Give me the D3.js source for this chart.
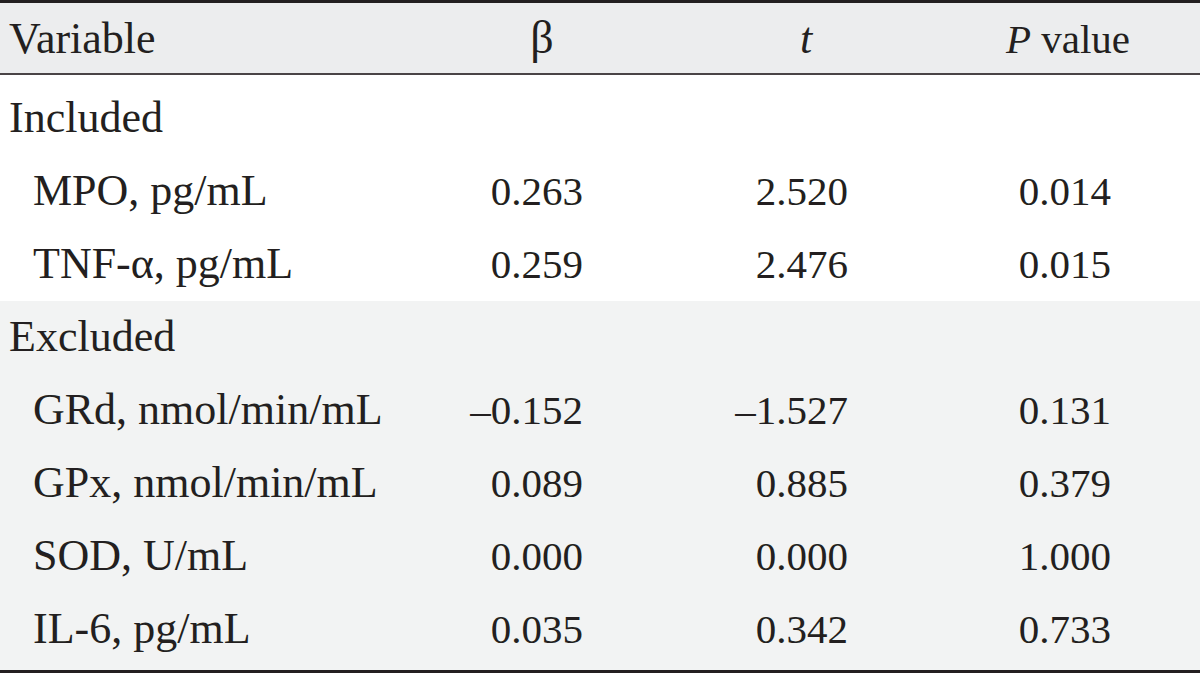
<!DOCTYPE html>
<html>
<head>
<meta charset="utf-8">
<script src="https://cdn.jsdelivr.net/npm/d3@7"></script>
<style>
  html, body { margin: 0; padding: 0; background: #fff; }
  svg { display: block; }
  text { font-family: "Liberation Serif", "DejaVu Serif", serif; fill: #231f20; }
</style>
</head>
<body>
<svg id="table" width="1200" height="673"></svg>
<script>
// table content
const sections = ["Included", "Excluded"];
const variables = ["MPO, pg/mL", "TNF-α, pg/mL", "GRd, nmol/min/mL", "GPx, nmol/min/mL", "SOD, U/mL", "IL-6, pg/mL"];
const groups = ["Included", "Included", "Excluded", "Excluded", "Excluded", "Excluded"];
const betas = [0.263, 0.259, -0.152, 0.089, 0.000, 0.035];
const tValues = [2.520, 2.476, -1.527, 0.885, 0.000, 0.342];
const pValues = [0.014, 0.015, 0.131, 0.379, 1.000, 0.733];

const width = 1200;
const height = 673;
const labelSize = 44;
const numberSize = 41;

const svg = d3.select("#table");

// en dash for negatives, as in the print
const fmt = d3.formatLocale({ decimal: ".", thousands: ",", grouping: [3], currency: ["", ""], minus: "\u2013" }).format(".3f");

// body rows: section headings followed by their variables
const rows = [];
sections.forEach((section) => {
  rows.push({ key: section, label: section, heading: true });
  variables.forEach((name, i) => {
    if (groups[i] === section) rows.push({ key: name, label: name, heading: false, beta: betas[i], t: tValues[i], p: pValues[i] });
  });
});

const y = d3.scalePoint().domain(rows.map((d) => d.key)).range([132, 643]);

const columns = [
  { field: "beta", right: 583 },
  { field: "t", right: 848 },
  { field: "p", right: 1111 },
];

// backgrounds
svg.append("rect").attr("x", 0).attr("y", 2).attr("width", width).attr("height", 72).attr("fill", "#ecedee");
svg.append("rect").attr("x", 0).attr("y", y("Excluded") - 50).attr("width", width)
  .attr("height", 670 - (y("Excluded") - 50)).attr("fill", "#f2f3f3");

// rules
svg.append("rect").attr("x", 0).attr("y", 0).attr("width", width).attr("height", 3).attr("fill", "#231f20");
svg.append("rect").attr("x", 0).attr("y", 73).attr("width", width).attr("height", 2).attr("fill", "#4a4446");
svg.append("rect").attr("x", 0).attr("y", 670).attr("width", width).attr("height", 3).attr("fill", "#231f20");

// header
const header = svg.append("g").attr("font-size", labelSize);
header.append("text").attr("x", 9).attr("y", 53).text("Variable");
header.append("text").attr("x", 542).attr("y", 53).attr("text-anchor", "middle").attr("font-size", 46).text("β");
header.append("text").attr("x", 806).attr("y", 53).attr("text-anchor", "middle").attr("font-style", "italic").text("t");
const pHead = header.append("text").attr("x", 1130).attr("y", 53).attr("text-anchor", "end").attr("font-size", 41);
pHead.append("tspan").attr("font-style", "italic").text("P");
pHead.append("tspan").text(" value");

// body
const body = svg.append("g");
const rowGroups = body.selectAll("g.row").data(rows).join("g").attr("class", "row");

rowGroups.append("text")
  .attr("x", (d) => (d.heading ? 9 : 33))
  .attr("y", (d) => y(d.key))
  .attr("font-size", labelSize)
  .text((d) => d.label);

columns.forEach((col) => {
  rowGroups.filter((d) => !d.heading).append("text")
    .attr("x", col.right)
    .attr("y", (d) => y(d.key))
    .attr("font-size", numberSize)
    .attr("text-anchor", "end")
    .text((d) => fmt(d[col.field]));
});
</script>
</body>
</html>
